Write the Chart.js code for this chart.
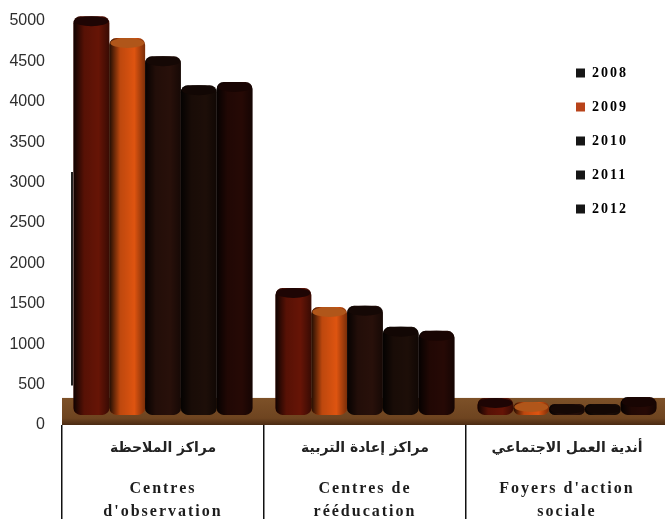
<!DOCTYPE html>
<html>
<head>
<meta charset="utf-8">
<style>
  html, body { margin: 0; padding: 0; background: #fff; overflow: hidden; }
  #wrap { width: 668px; height: 519px; }
</style>
<script src="https://cdn.jsdelivr.net/npm/chart.js@4/dist/chart.umd.min.js"></script>
</head>
<body>
<div id="wrap"><canvas id="chart" width="668" height="519"></canvas></div>
<script>
const arabicLabels = ['مراكز الملاحظة', 'مراكز إعادة التربية', 'أندية العمل الاجتماعي'];
const categories = [
  ['', '', 'Centres', "d'observation"],
  ['', '', 'Centres de', 'rééducation'],
  ['', '', "Foyers d'action", 'sociale']
];
const years = ['2008', '2009', '2010', '2011', '2012'];
const values2008 = [5060, 1695, 335];
const values2009 = [4790, 1460, 285];
const values2010 = [4565, 1475, 260];
const values2011 = [4205, 1215, 260];
const values2012 = [4245, 1165, 345];
const seriesValues = [values2008, values2009, values2010, values2011, values2012];
const barColors = ['#661406', '#de5410', '#28100a', '#1d0e08', '#260905'];
const capColors = ['#1e0504', '#b0561a', '#150805', '#120704', '#180503'];
const legendColors = ['#161616', '#b8431a', '#161616', '#161616', '#161616'];
const floorTop = 335;
const barBase = 125;
const sideLineFrom = 3130;
const sideLineTo = 490;

// lantai coklat di bawah batang
const floorPlugin = {
  id: 'floor',
  beforeDraw(chart) {
    chart.ctx.letterSpacing = '2px';
  },
  beforeDatasetsDraw(chart) {
    const { ctx, chartArea } = chart;
    const y = chart.scales.y;
    const top = y.getPixelForValue(floorTop);
    const bottom = y.getPixelForValue(0);
    const g = ctx.createLinearGradient(0, top, 0, bottom);
    g.addColorStop(0, '#7d5128');
    g.addColorStop(0.75, '#6e4420');
    g.addColorStop(1, '#4a2a12');
    ctx.save();
    ctx.fillStyle = g;
    ctx.fillRect(chartArea.left, top, chartArea.right - chartArea.left, bottom - top);
    // garis tipis di sisi kiri batang pertama
    ctx.strokeStyle = '#222';
    ctx.lineWidth = 2;
    ctx.beginPath();
    ctx.moveTo(chartArea.left + 10, y.getPixelForValue(sideLineFrom));
    ctx.lineTo(chartArea.left + 10, y.getPixelForValue(sideLineTo));
    ctx.stroke();
    ctx.restore();
  },
  afterDatasetsDraw(chart) {
    const ctx = chart.ctx;
    ctx.letterSpacing = '0px';
    // bentuk silinder: bayangan sisi dan tutup atas
    seriesValues.forEach((s, i) => {
      chart.getDatasetMeta(i).data.forEach(bar => {
        const w = bar.width;
        const left = bar.x - w / 2;
        const g = ctx.createLinearGradient(left, 0, left + w, 0);
        g.addColorStop(0, 'rgba(0,0,0,0.85)');
        g.addColorStop(0.3, 'rgba(0,0,0,0.15)');
        g.addColorStop(0.7, 'rgba(0,0,0,0)');
        g.addColorStop(1, 'rgba(0,0,0,0.45)');
        ctx.save();
        ctx.fillStyle = g;
        ctx.beginPath();
        ctx.roundRect(left, bar.y, w, bar.base - bar.y, 7);
        ctx.fill();
        ctx.fillStyle = capColors[i];
        ctx.beginPath();
        ctx.ellipse(bar.x, bar.y + 5, w / 2 - 1, 5, 0, 0, Math.PI * 2);
        ctx.fill();
        ctx.restore();
      });
    });
    // label Arab di baris pertama tiap kategori
    const x = chart.scales.x;
    ctx.save();
    ctx.font = 'bold 14px "DejaVu Sans"';
    ctx.fillStyle = '#222';
    ctx.textAlign = 'center';
    ctx.textBaseline = 'middle';
    arabicLabels.forEach((t, i) => {
      ctx.fillText(t, x.getPixelForTick(i), x.bottom - 71);
    });
    ctx.restore();
  }
};

// posisi legenda di dalam area chart
const legendPosPlugin = {
  id: 'legendPos',
  afterLayout(chart) {
    const l = chart.legend;
    const w = l.width;
    const h = l.height;
    l.left = 556;
    l.right = l.left + w;
    l.top = 46;
    l.bottom = l.top + h;
  }
};

new Chart(document.getElementById('chart'), {
  type: 'bar',
  data: {
    labels: categories,
    datasets: years.map((y, i) => ({
      label: y,
      data: seriesValues[i],
      backgroundColor: barColors[i],
      base: barBase,
      borderRadius: 7,
      borderSkipped: false,
      clip: false,
      categoryPercentage: 0.886,
      barPercentage: 1
    }))
  },
  plugins: [floorPlugin, legendPosPlugin],
  options: {
    responsive: false,
    animation: false,
    layout: { padding: { top: 21, left: 0, right: 0, bottom: 0 } },
    plugins: {
      tooltip: { enabled: false },
      legend: {
        position: 'chartArea',
        align: 'start',
        labels: {
          boxWidth: 9,
          boxHeight: 9,
          padding: 20,
          color: '#1c1c1c',
          font: { family: '"Liberation Serif"', size: 14, weight: 'bold' },
          generateLabels() {
            return years.map((y, i) => ({
              text: y,
              fillStyle: legendColors[i],
              strokeStyle: legendColors[i],
              lineWidth: 0,
              datasetIndex: i
            }));
          }
        }
      }
    },
    scales: {
      x: {
        afterFit(s) { s.height = 94; },
        border: { display: false },
        grid: {
          offset: true,
          drawOnChartArea: false,
          color: '#111',
          lineWidth: 1.5,
          tickLength: 94
        },
        ticks: {
          z: 0,
          maxRotation: 0,
          autoSkip: false,
          padding: -88,
          color: '#1c1c1c',
          font: { family: '"Liberation Serif"', size: 16, weight: 'bold', lineHeight: 1.44 }
        }
      },
      y: {
        min: 0,
        max: 5000,
        afterFit(s) { s.width = 62; s.paddingTop = 0; s.paddingBottom = 0; },
        border: { display: false },
        grid: { display: false, drawTicks: false },
        ticks: {
          z: 1,
          stepSize: 500,
          padding: 17,
          color: '#2e2e2e',
          font: { family: '"Liberation Sans"', size: 16 },
          callback: v => String(v)
        }
      }
    }
  }
});
</script>
</body>
</html>
